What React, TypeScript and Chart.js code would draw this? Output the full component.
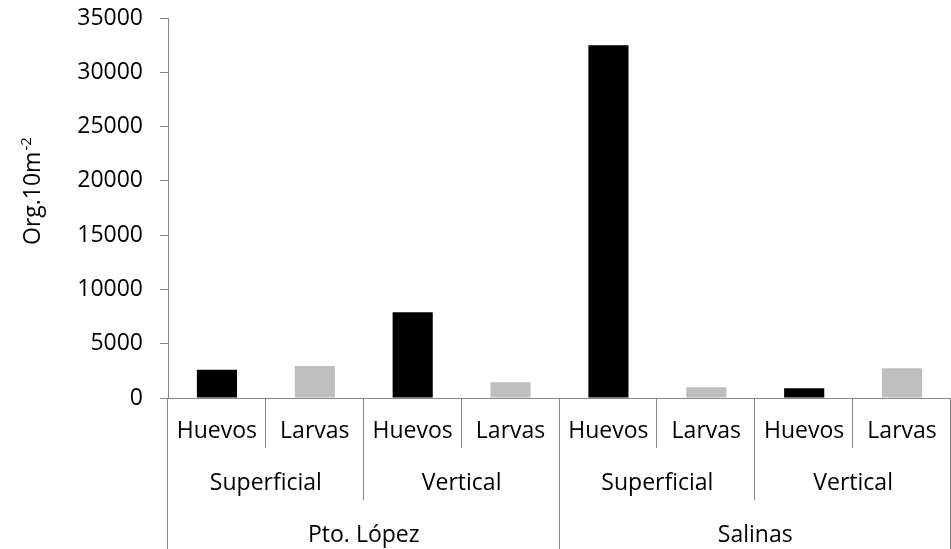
import React, { useEffect, useRef } from "react";
import { Chart, registerables } from "chart.js";

Chart.register(...registerables);

const categories = ["Huevos", "Larvas", "Huevos", "Larvas", "Huevos", "Larvas", "Huevos", "Larvas"];
const level2Labels = ["Superficial", "Vertical", "Superficial", "Vertical"];
const level3Labels = ["Pto. López", "Salinas"];
const values = [2600, 2950, 7900, 1450, 32500, 1000, 900, 2750];
const barColors = ["#000000", "#BFBFBF", "#000000", "#BFBFBF", "#000000", "#BFBFBF", "#000000", "#BFBFBF"];
const yTitle = "Org.10m";
const yTitleSup = "-2";

const FONT = "'Open Sans', 'Liberation Sans', sans-serif";
const AXIS = "#868686";

const multiLevelPlugin = {
  id: "multiLevel",
  afterDraw(chart: any) {
    const ctx = chart.ctx;
    const x = chart.scales.x;
    const area = chart.chartArea;
    const n = categories.length;
    const w = (area.right - area.left) / n;
    const base = area.bottom;
    ctx.save();
    ctx.strokeStyle = AXIS;
    ctx.lineWidth = 1;
    for (let k = 0; k <= n; k++) {
      let end = 448;
      if (k % 4 === 0) end = chart.height;
      else if (k % 2 === 0) end = 500;
      const px = Math.round(area.left + k * w) - 0.5;
      ctx.beginPath();
      ctx.moveTo(px, base);
      ctx.lineTo(px, end);
      ctx.stroke();
    }
    ctx.fillStyle = "#000000";
    ctx.font = `23px ${FONT}`;
    ctx.textAlign = "center";
    ctx.textBaseline = "middle";
    categories.forEach((c, i) => {
      ctx.fillText(c, x.getPixelForValue(i), 431);
    });
    level2Labels.forEach((c, i) => {
      const cx = (x.getPixelForValue(2 * i) + x.getPixelForValue(2 * i + 1)) / 2;
      ctx.fillText(c, cx, 483);
    });
    level3Labels.forEach((c, i) => {
      const cx = (x.getPixelForValue(4 * i) + x.getPixelForValue(4 * i + 3)) / 2;
      ctx.fillText(c, cx, 535);
    });
    // y-axis title with superscript
    ctx.translate(40, 245);
    ctx.rotate(-Math.PI / 2);
    ctx.textAlign = "left";
    ctx.textBaseline = "alphabetic";
    ctx.font = `23px ${FONT}`;
    ctx.fillText(yTitle, 0, 0);
    const tw = ctx.measureText(yTitle).width;
    ctx.font = `15px ${FONT}`;
    ctx.fillText(yTitleSup, tw + 1, -9);
    ctx.restore();
  },
};

export default function App() {
  const ref = useRef<HTMLCanvasElement | null>(null);
  useEffect(() => {
    if (!ref.current) return;
    const chart = new Chart(ref.current, {
      type: "bar",
      data: {
        labels: categories,
        datasets: [
          {
            data: values,
            backgroundColor: barColors,
            borderWidth: 0,
            barPercentage: 0.41,
            categoryPercentage: 1,
          },
        ],
      },
      options: {
        responsive: false,
        animation: false,
        devicePixelRatio: 1,
        layout: { padding: { top: 18, right: 0, bottom: 0, left: 0 } },
        plugins: { legend: { display: false }, tooltip: { enabled: false } },
        scales: {
          x: {
            ticks: { display: false },
            grid: { display: false },
            border: { color: AXIS, width: 1 },
            afterFit: (s: any) => {
              s.height = 151;
              s.paddingLeft = 0;
              s.paddingRight = 0;
            },
          },
          y: {
            min: 0,
            max: 35000,
            ticks: {
              stepSize: 5000,
              padding: 17,
              color: "#000000",
              font: { family: FONT, size: 23 },
              callback: (v: any) => String(v),
            },
            grid: { drawOnChartArea: false, color: AXIS, tickLength: 8 },
            border: { color: AXIS, width: 1 },
            afterFit: (s: any) => {
              s.width = 168;
              s.paddingTop = 0;
              s.paddingBottom = 0;
            },
          },
        },
      },
      plugins: [multiLevelPlugin],
    });
    return () => chart.destroy();
  }, []);
  return (
    <div style={{ position: "fixed", left: 0, top: 0, width: 951, height: 549, background: "#fff" }}>
      <canvas ref={ref} width={951} height={549} style={{ display: "block" }} />
    </div>
  );
}
